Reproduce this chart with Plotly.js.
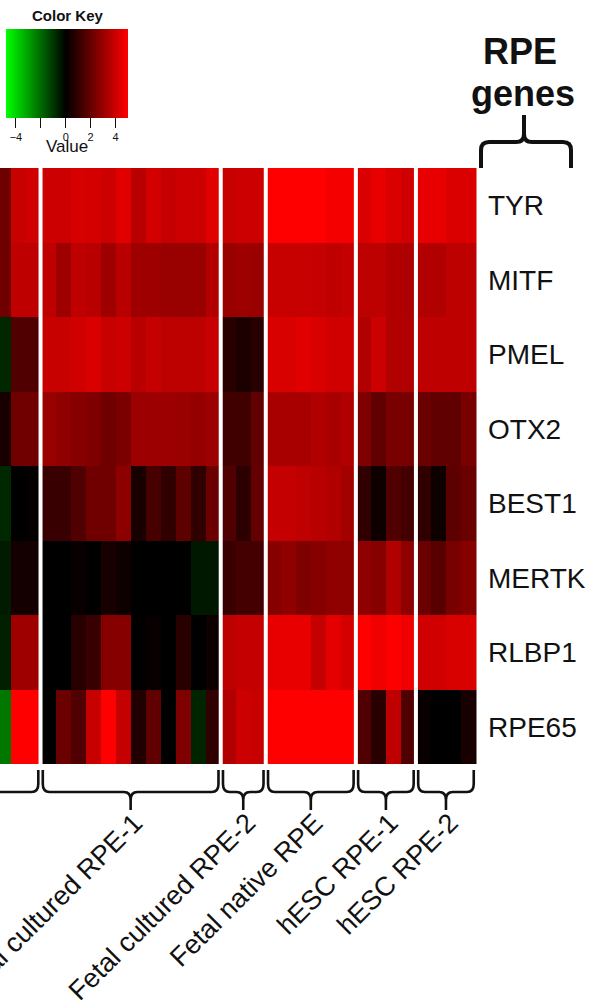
<!DOCTYPE html>
<html><head><meta charset="utf-8">
<script src="https://cdn.plot.ly/plotly-3.0.1.min.js"></script>
<style>html,body{margin:0;padding:0;background:#fff}</style>
</head><body><div id="chart" style="width:596px;height:1001px"></div>
<script>
// ---------------- data ----------------
const genes = ['TYR','MITF','PMEL','OTX2','BEST1','MERTK','RLBP1','RPE65'];
const groupNames = ['', 'Fetal cultured RPE-1', 'Fetal cultured RPE-2', 'Fetal native RPE', 'hESC RPE-1', 'hESC RPE-2'];
const groupSizes = [3, 12, 3, 6, 4, 4];
const keyTicks = [-4, -2, 0, 2, 4];
const keyTickText = ['\u22124', '', '0', '2', '4'];

const TYR   = [2.16,3.9,4.1, 4.0,4.0,4.2,4.15,4.0,4.4,3.6,4.15,3.85,4.0,4.0,4.4, 3.9,4.0,4.0, 5,5,5,5,4.8,4.8, 4.3,4.55,4.3,4.1, 4.55,4.55,4.3,4.3];
const MITF  = [2.2,3.75,3.75, 3.75,3.1,3.75,3.6,3.1,3.6,3.1,3.1,3.0,3.0,3.0,3.5, 3.0,3.1,3.0, 3.9,3.9,3.9,3.85,3.75,3.85, 3.7,3.7,3.5,3.4, 3.5,3.45,3.7,3.7];
const PMEL  = [-0.75,1.57,1.57, 3.9,3.9,4.1,4.25,3.9,4.0,3.6,3.85,3.7,3.7,3.7,3.9, 0.78,0.55,0.78, 4.25,4.25,4.4,4.25,4.1,4.1, 3.45,4.0,3.45,3.45, 3.7,3.75,3.75,3.75];
const OTX2  = [0.47,2.2,2.2, 3.0,2.8,2.65,2.5,2.2,2.4,3.05,3.05,3.05,3.0,2.9,3.05, 1.25,1.25,1.9, 3.3,3.3,3.3,3.45,3.3,3.45, 2.5,1.9,2.35,2.35, 2.1,1.9,1.9,2.35];
const BEST1 = [-0.75,0,0.08, 1.1,1.1,1.57,2.2,2.2,2.75,0.47,1.4,0.94,1.8,0.94,2.1, 1.57,0.86,1.96, 3.85,3.85,3.75,3.6,3.45,3.2, 0.94,0.3,1.57,1.33, 0.94,0.3,1.8,2.1];
const MERTK = [-0.5,0.4,0.4, 0,0,0.15,0,0.47,0.3,0,0,0,0,-0.45,-0.45, 1.1,1.33,1.33, 2.65,2.8,2.5,2.65,2.8,2.8, 2.8,2.65,3.45,2.8, 2.1,1.73,2.35,2.65];
const RLBP1 = [-0.6,3.1,3.1, 0,0,0.8,1.1,2.65,2.65,0,0.15,0,0.8,0,0.3, 3.7,3.85,3.85, 4.55,4.55,4.55,3.85,4.47,4.15, 5,4.7,4.95,4.7, 4.1,4.1,4.25,4.25];
const RPE65 = [-2.25,5,5, 0,2.1,1.57,3.9,5,3.85,0.63,1.9,0,2.5,-0.68,0.94, 3.45,4.0,3.9, 5,5,5,5,5,5, 1.57,0.78,3.75,1.57, 0.15,0,0,0.47];

// ---------------- layout helpers ----------------
const W = 596, H = 1001;
const M = {l: 0, r: 117, t: 168, b: 237, pad: 0};
const PW = W - M.l - M.r, PH = H - M.t - M.b;
const px = p => (p - M.l) / PW;          // pixel x -> paper
const py = p => (H - M.b - p) / PH;      // pixel y -> paper
const FONT = 'Liberation Sans, Arial, Helvetica, sans-serif';

const z = [TYR, MITF, PMEL, OTX2, BEST1, MERTK, RLBP1, RPE65];
const nCols = TYR.length;
const cols = Array.from({length: nCols}, (_, i) => i);

// group boundaries
const starts = [];
let acc = 0;
groupSizes.forEach(s => { starts.push(acc); acc += s; });

const shapes = [];
const annotations = [];

// white column separators
starts.slice(1).forEach(s => {
  shapes.push({type: 'line', xref: 'x', yref: 'paper', x0: s - 0.5, x1: s - 0.5, y0: 0, y1: 1,
    line: {color: '#ffffff', width: 4}, layer: 'above'});
});

// bottom braces
const ins = 0.15, r = 0.45;
groupSizes.forEach((s, g) => {
  let xa = starts[g] - 0.5 + ins;
  const xb = starts[g] + s - 0.5 - ins;
  if (g === 0) xa = -6;   // first group continues off the left edge
  const xm = (xa + xb) / 2;
  const yTop = py(770), yc = py(784), yh = py(792), yt1 = py(800), yTip = py(810);
  const path = `M ${xa},${yTop} L ${xa},${yc} Q ${xa},${yh} ${xa + r},${yh} L ${xm - r},${yh} Q ${xm},${yh} ${xm},${yt1} L ${xm},${yTip} ` +
               `M ${xm},${yt1} Q ${xm},${yh} ${xm + r},${yh} L ${xb - r},${yh} Q ${xb},${yh} ${xb},${yc} L ${xb},${yTop}`;
  shapes.push({type: 'path', xref: 'x', yref: 'paper', path: path, line: {color: '#111', width: 2.6}});
  if (groupNames[g]) {
    annotations.push({xref: 'x', yref: 'paper', x: xm, y: py(805), xshift: 21, xanchor: 'right', yanchor: 'top',
      text: groupNames[g], textangle: -45, showarrow: false, font: {family: FONT, size: 27, color: '#111'}});
  }
});

// top "RPE genes" brace
(function(){
  const L = 481, R = 571, C = 524, yb = 168, yh = 142, yt = 115, rr = 8;
  const P = (x, y) => `${px(x)},${py(y)}`;
  const path = `M ${P(L, yb)} L ${P(L, yh + rr)} Q ${P(L, yh)} ${P(L + rr, yh)} L ${P(C - rr, yh)} Q ${P(C, yh)} ${P(C, yh - rr)} L ${P(C, yt)} ` +
               `M ${P(C, yh - rr)} Q ${P(C, yh)} ${P(C + rr, yh)} L ${P(R - rr, yh)} Q ${P(R, yh)} ${P(R, yh + rr)} L ${P(R, yb)}`;
  shapes.push({type: 'path', xref: 'paper', yref: 'paper', path: path, line: {color: '#111', width: 4}});
})();

annotations.push({xref: 'paper', yref: 'paper', x: px(520), y: py(51.7), xanchor: 'center', yanchor: 'middle',
  text: '<b>RPE</b>', showarrow: false, font: {family: FONT, size: 36, color: '#111'}});
annotations.push({xref: 'paper', yref: 'paper', x: px(523), y: py(94), xanchor: 'center', yanchor: 'middle',
  text: '<b>genes</b>', showarrow: false, font: {family: FONT, size: 36, color: '#111'}});

// color key texts
annotations.push({xref: 'paper', yref: 'paper', x: px(67.5), y: py(15.5), xanchor: 'center', yanchor: 'middle',
  text: '<b>Color Key</b>', showarrow: false, font: {family: FONT, size: 15, color: '#111'}});
annotations.push({xref: 'paper', yref: 'paper', x: px(66.7), y: py(147), xanchor: 'center', yanchor: 'middle',
  text: 'Value', showarrow: false, font: {family: FONT, size: 17, color: '#111'}});
// faint line in color key
shapes.push({type: 'line', xref: 'paper', yref: 'paper', x0: px(15.7), x1: px(15.7), y0: py(29), y1: py(118),
  line: {color: 'rgba(170,255,170,0.8)', width: 1}});

const trace = {
  type: 'heatmap', x: cols, y: genes, z: z,
  zmin: -4.8, zmax: 5,
  colorscale: [[0, '#00ff00'], [0.49, '#000000'], [1, '#ff0000']],
  hoverinfo: 'skip',
  colorbar: {
    orientation: 'h', x: px(6), xanchor: 'left', y: py(29), yanchor: 'top',
    lenmode: 'pixels', len: 122, thicknessmode: 'pixels', thickness: 89,
    xpad: 0, ypad: 0, outlinewidth: 0, borderwidth: 0,
    ticks: 'outside', ticklen: 10, tickwidth: 1, tickcolor: '#111',
    tickvals: keyTicks, ticktext: keyTickText,
    tickfont: {family: FONT, size: 11, color: '#111'}
  }
};

const layout = {
  width: W, height: H, margin: M,
  paper_bgcolor: '#fff', plot_bgcolor: '#fff',
  font: {family: FONT, color: '#111'},
  xaxis: {range: [-0.2, 31.7], showgrid: false, zeroline: false, showline: false,
    showticklabels: false, ticks: '', fixedrange: true},
  yaxis: {autorange: 'reversed', side: 'right', showgrid: false, zeroline: false, showline: false,
    ticks: '', ticklabelstandoff: 8, tickfont: {family: FONT, size: 28, color: '#111'}, fixedrange: true},
  shapes: shapes, annotations: annotations, showlegend: false
};

Plotly.newPlot('chart', [trace], layout, {staticPlot: true, displayModeBar: false});
</script></body></html>
